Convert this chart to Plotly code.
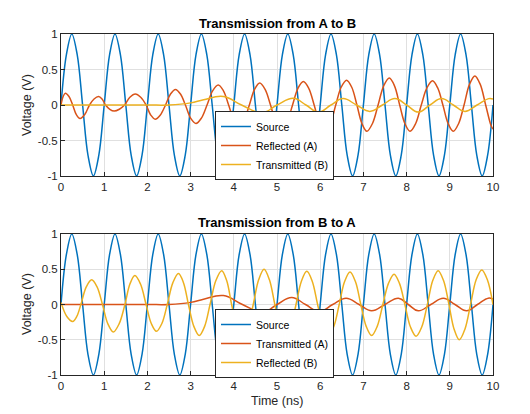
import plotly.graph_objects as go

# ---------------- data ----------------
source_t = [0.0, 0.125, 0.25, 0.375, 0.5, 0.625, 0.75, 0.875,
            1.0, 1.125, 1.25, 1.375, 1.5, 1.625, 1.75, 1.875,
            2.0, 2.125, 2.25, 2.375, 2.5, 2.625, 2.75, 2.875,
            3.0, 3.125, 3.25, 3.375, 3.5, 3.625, 3.75, 3.875,
            4.0, 4.125, 4.25, 4.375, 4.5, 4.625, 4.75, 4.875,
            5.0, 5.125, 5.25, 5.375, 5.5, 5.625, 5.75, 5.875,
            6.0, 6.125, 6.25, 6.375, 6.5, 6.625, 6.75, 6.875,
            7.0, 7.125, 7.25, 7.375, 7.5, 7.625, 7.75, 7.875,
            8.0, 8.125, 8.25, 8.375, 8.5, 8.625, 8.75, 8.875,
            9.0, 9.125, 9.25, 9.375, 9.5, 9.625, 9.75, 9.875,
            10.0]
source_v = [0.0, 0.71, 1.0, 0.71, 0.0, -0.71, -1.0, -0.71,
            0.0, 0.71, 1.0, 0.71, 0.0, -0.71, -1.0, -0.71,
            0.0, 0.71, 1.0, 0.71, 0.0, -0.71, -1.0, -0.71,
            0.0, 0.71, 1.0, 0.71, 0.0, -0.71, -1.0, -0.71,
            0.0, 0.71, 1.0, 0.71, 0.0, -0.71, -1.0, -0.71,
            0.0, 0.71, 1.0, 0.71, 0.0, -0.71, -1.0, -0.71,
            0.0, 0.71, 1.0, 0.71, 0.0, -0.71, -1.0, -0.71,
            0.0, 0.71, 1.0, 0.71, 0.0, -0.71, -1.0, -0.71,
            0.0, 0.71, 1.0, 0.71, 0.0, -0.71, -1.0, -0.71,
            0.0, 0.71, 1.0, 0.71, 0.0, -0.71, -1.0, -0.71,
            0.0]

# Top panel: Reflected (A)
reflA_t = [0.0, 0.05, 0.1, 0.185, 0.27, 0.355, 0.44, 0.55, 0.66, 0.765,
           0.87, 0.95, 1.03, 1.13, 1.23, 1.35, 1.47, 1.595, 1.72, 1.845,
           1.97, 2.075, 2.18, 2.3, 2.42, 2.535, 2.65, 2.765, 2.88, 3.0,
           3.125, 3.25, 3.38, 3.51, 3.64, 3.76, 3.88, 4.0, 4.12, 4.24,
           4.36, 4.48, 4.6, 4.725, 4.85, 4.975, 5.1, 5.23, 5.36, 5.485,
           5.61, 5.735, 5.86, 5.985, 6.11, 6.235, 6.36, 6.485, 6.61, 6.73,
           6.85, 6.965, 7.08, 7.21, 7.34, 7.47, 7.6, 7.72, 7.84, 7.96,
           8.08, 8.21, 8.34, 8.47, 8.6, 8.72, 8.84, 8.96, 9.08, 9.205,
           9.33, 9.455, 9.58, 9.705, 9.83, 9.955, 10.0]
reflA_v = [0.0, 0.12, 0.165, 0.12, 0.0, -0.135, -0.19, -0.135, 0.0, 0.085,
           0.12, 0.085, 0.0, -0.06, -0.085, -0.06, 0.0, 0.11, 0.155, 0.11,
           0.0, -0.14, -0.2, -0.14, 0.0, 0.155, 0.22, 0.155, 0.0, -0.185,
           -0.26, -0.185, 0.0, 0.2, 0.28, 0.2, 0.0, -0.21, -0.3, -0.21,
           0.0, 0.22, 0.31, 0.22, 0.0, -0.24, -0.34, -0.24, 0.0, 0.235,
           0.33, 0.235, 0.0, -0.26, -0.37, -0.26, 0.0, 0.25, 0.35, 0.25,
           0.0, -0.26, -0.37, -0.26, 0.0, 0.27, 0.38, 0.27, 0.0, -0.26,
           -0.37, -0.26, 0.0, 0.24, 0.34, 0.24, 0.0, -0.26, -0.37, -0.26,
           0.0, 0.29, 0.41, 0.29, 0.0, -0.29, -0.34]

# Top panel: Transmitted (B)
transB_t = [0.0, 1.0, 2.0, 2.5, 3.0, 3.3, 3.76, 4.18, 4.65, 5.0, 5.38, 5.67,
            5.96, 6.25, 6.53, 6.84, 7.15, 7.44, 7.73, 8.0, 8.27, 8.54, 8.81,
            9.08, 9.35, 9.63, 9.9, 10.0]
transB_v = [0.0, 0.0, 0.0, 0.0, 0.03, 0.075, 0.12, 0.0, -0.11, 0.0, 0.095, 0.0,
            -0.1, 0.0, 0.09, 0.0, -0.09, 0.0, 0.09, 0.0, -0.1, 0.0, 0.09,
            0.0, -0.09, 0.0, 0.09, 0.085]

# Bottom panel: Transmitted (A)
transA_t = [0.0, 1.0, 2.0, 2.5, 3.0, 3.3, 3.76, 4.2, 4.67, 5.0, 5.34, 5.66,
            5.98, 6.29, 6.6, 6.9, 7.19, 7.5, 7.81, 8.04, 8.27, 8.56, 8.85,
            9.12, 9.39, 9.64, 9.89, 10.0]
transA_v = [0.0, 0.0, 0.0, 0.0, 0.03, 0.075, 0.127, 0.0, -0.11, 0.0, 0.1, 0.0,
            -0.1, 0.0, 0.09, 0.0, -0.09, 0.0, 0.09, 0.0, -0.09, 0.0, 0.09,
            0.0, -0.09, 0.0, 0.09, 0.075]

# Bottom panel: Reflected (B)
reflB_t = [0.0, 0.135, 0.27, 0.365, 0.46, 0.585, 0.71, 0.835, 0.96, 1.085,
           1.21, 1.345, 1.48, 1.595, 1.71, 1.84, 1.97, 2.09, 2.21, 2.335,
           2.46, 2.59, 2.72, 2.835, 2.95, 3.075, 3.2, 3.325, 3.45, 3.585,
           3.72, 3.835, 3.95, 4.075, 4.2, 4.325, 4.45, 4.575, 4.7, 4.825,
           4.95, 5.075, 5.2, 5.32, 5.44, 5.565, 5.69, 5.815, 5.94, 6.065,
           6.19, 6.315, 6.44, 6.565, 6.69, 6.815, 6.94, 7.065, 7.19, 7.32,
           7.45, 7.58, 7.71, 7.835, 7.96, 8.09, 8.22, 8.35, 8.48, 8.605,
           8.73, 8.855, 8.98, 9.1, 9.22, 9.35, 9.48, 9.61, 9.74, 9.87, 10.0]
reflB_v = [0.03, -0.17, -0.24, -0.17, 0.0, 0.25, 0.35, 0.25, 0.0, -0.275,
           -0.39, -0.275, 0.0, 0.29, 0.41, 0.29, 0.0, -0.27, -0.38, -0.27,
           0.0, 0.31, 0.44, 0.31, 0.0, -0.31, -0.44, -0.31, 0.0, 0.34,
           0.48, 0.34, 0.0, -0.32, -0.45, -0.32, 0.0, 0.35, 0.5, 0.35,
           0.0, -0.32, -0.45, -0.32, 0.0, 0.33, 0.47, 0.33, 0.0, -0.31,
           -0.44, -0.31, 0.0, 0.325, 0.46, 0.325, 0.0, -0.31, -0.44, -0.31,
           0.0, 0.3, 0.43, 0.3, 0.0, -0.32, -0.45, -0.32, 0.0, 0.34,
           0.48, 0.34, 0.0, -0.35, -0.5, -0.35, 0.0, 0.35, 0.49, 0.35, 0.0]

x_ticks = [0, 1, 2, 3, 4, 5, 6, 7, 8, 9, 10]
y_ticks = [-1, -0.5, 0, 0.5, 1]
y_tick_text = ["-1", "-0.5", "0", "0.5", "1"]

titles = ["Transmission from A to B", "Transmission from B to A"]
top_names = ["Source", "Reflected (A)", "Transmitted (B)"]
bot_names = ["Source", "Transmitted (A)", "Reflected (B)"]

# ---------------- styling ----------------
C_BLUE = "#0072BD"
C_RED = "#D95319"
C_YEL = "#EDB120"
FONT = "Liberation Sans, Arial, sans-serif"
OFF = 8                      # page body margin in the browser
W, H = 530 - OFF, 414 - OFF  # figure fits inside the window


def px(x):
    return (x - OFF) / W


def py(y):
    return 1 - (y - OFF) / H


fig = go.Figure()


def add(t, v, name, color, xa, ya, leg, sm):
    fig.add_trace(go.Scatter(
        x=t, y=v, name=name, mode="lines",
        line=dict(color=color, width=1.5, shape="spline", smoothing=sm),
        xaxis=xa, yaxis=ya, legend=leg))


add(source_t, source_v, top_names[0], C_BLUE, "x", "y", "legend", 1.0)
add(reflA_t, reflA_v, top_names[1], C_RED, "x", "y", "legend", 1.0)
add(transB_t, transB_v, top_names[2], C_YEL, "x", "y", "legend", 1.2)

add(source_t, source_v, bot_names[0], C_BLUE, "x2", "y2", "legend2", 1.0)
add(transA_t, transA_v, bot_names[1], C_RED, "x2", "y2", "legend2", 1.2)
add(reflB_t, reflB_v, bot_names[2], C_YEL, "x2", "y2", "legend2", 1.0)

x_dom = [px(61), px(493)]
top_dom = [py(176), py(34)]
bot_dom = [py(375), py(234)]

ax_common = dict(
    showline=True, linecolor="#262626", linewidth=1, mirror=True,
    showgrid=True, gridcolor="#E0E0E0", gridwidth=1, zeroline=False,
    ticks="inside", ticklen=4, tickcolor="#262626", automargin=False,
    tickfont=dict(family=FONT, size=11.5, color="#262626"),
)

leg_common = dict(xanchor="left", yanchor="top",
                  bgcolor="white", bordercolor="#262626", borderwidth=1,
                  font=dict(family=FONT, size=10.5, color="black"),
                  tracegroupgap=0, itemwidth=30)

fig.update_layout(
    width=W, height=H,
    margin=dict(l=0, r=0, t=0, b=0, autoexpand=False),
    paper_bgcolor="white", plot_bgcolor="white",
    font=dict(family=FONT, size=11, color="#262626"),
    xaxis=dict(domain=x_dom, anchor="y", range=[0, 10], tickvals=x_ticks, **ax_common),
    yaxis=dict(domain=top_dom, anchor="x", range=[-1, 1], tickvals=y_ticks,
               ticktext=y_tick_text, **ax_common),
    xaxis2=dict(domain=x_dom, anchor="y2", range=[0, 10], tickvals=x_ticks, **ax_common),
    yaxis2=dict(domain=bot_dom, anchor="x2", range=[-1, 1], tickvals=y_ticks,
                ticktext=y_tick_text, **ax_common),
    legend=dict(x=px(215), y=py(111), **leg_common),
    legend2=dict(x=px(215), y=py(309), **leg_common),
    showlegend=True,
)

ann = []
for title, yy in zip(titles, [23, 222.5]):
    ann.append(dict(text="<b>" + title + "</b>", x=px(277), y=py(yy),
                    xref="paper", yref="paper", showarrow=False,
                    xanchor="center", yanchor="middle",
                    font=dict(family=FONT, size=13, color="black")))
for yy in [105, 304]:
    ann.append(dict(text="Voltage (V)", x=px(27), y=py(yy),
                    xref="paper", yref="paper", showarrow=False, textangle=-90,
                    xanchor="center", yanchor="middle",
                    font=dict(family=FONT, size=12.5, color="#262626")))
ann.append(dict(text="Time (ns)", x=px(277), y=py(401),
                xref="paper", yref="paper", showarrow=False,
                xanchor="center", yanchor="middle",
                font=dict(family=FONT, size=12.5, color="#262626")))
fig.update_layout(annotations=ann)

fig.write_html("out.html")
